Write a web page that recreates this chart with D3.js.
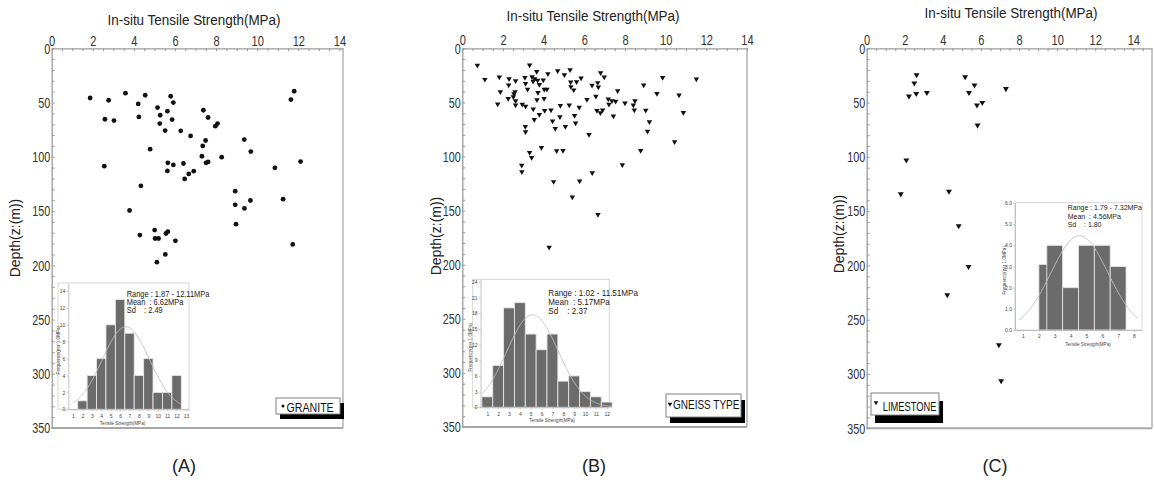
<!DOCTYPE html>
<meta charset="utf-8">
<style>
body { margin: 0; background: #fff; }
svg { font-family: "Liberation Sans", Arial, sans-serif; }
.ax .domain, .ax line { stroke: #9c9c9c; }
.ins .domain, .ins line { stroke: #b4b4b4; stroke-width: 0.8; }
</style>
<body>
<svg id="chart" width="1154" height="480"></svg>
<script src="https://cdn.jsdelivr.net/npm/d3@7"></script>
<script>

// ---- data ----
var xTickVals = [0, 2, 4, 6, 8, 10, 12, 14];
var depthTickVals = [0, 50, 100, 150, 200, 250, 300, 350];

// (A) granite
var granX = [1.87,2.77,2.59,3.03,3.59,4.55,4.21,4.24,5.15,5.28,5.26,5.52,5.63,5.79,5.92,5.86,6.28,6.76,4.79,5.65,
  5.92,5.63,6.41,6.67,6.91,6.47,2.56,4.34,3.79,7.38,7.61,7.49,7.35,7.31,7.51,7.61,7.96,8.07,8.27,9.37,
  9.69,8.93,8.93,9.38,9.67,10.86,11.26,11.80,11.64,12.11,4.29,5.01,5.03,5.20,5.56,5.65,6.02,5.53,5.12,8.97,11.73];
var granDepth = [45.8,47.9,65.4,66.6,41.4,43.3,51.3,63.3,54.6,61.7,69.4,75.8,58.0,44.2,50.0,65.7,76.1,80.8,93.0,105.6,
  107.5,113.0,106.2,115.8,113.3,120.4,108.7,126.8,149.5,57.1,63.8,85.0,90.0,99.5,105.6,104.7,71.8,69.4,100.4,84.1,
  95.2,131.7,144.3,147.6,140.3,110.2,139.1,39.6,47.3,104.4,172.2,167.6,175.3,175.3,170.7,169.0,177.5,190.0,197.1,162.1,180.8];
var granBinLo = [1.5,2.5,3.5,4.5,5.5,6.5,7.5,8.5,9.5,10.5,11.5];
var granBinHi = [2.5,3.5,4.5,5.5,6.5,7.5,8.5,9.5,10.5,11.5,12.5];
var granFreq = [1,4,6,10,13,9,4,6,2,2,4];

// (B) gneiss type
var gneissX = [0.74,1.11,1.82,1.87,1.74,2.30,2.28,2.62,2.26,2.51,2.54,2.59,2.62,2.62,2.95,3.11,3.08,3.11,3.21,3.31,
  3.43,3.48,3.56,3.66,3.70,3.79,3.72,3.67,3.98,4.03,4.16,4.02,4.21,3.49,3.54,3.79,4.05,4.36,3.10,3.11,
  4.44,4.57,4.69,5.02,5.30,5.33,5.34,5.48,5.62,5.84,5.26,4.82,4.80,5.07,5.52,5.57,5.75,6.13,6.38,6.66,
  6.69,6.80,6.98,6.57,6.62,6.79,6.90,7.18,7.21,7.36,7.54,7.43,7.64,8.00,8.41,8.46,8.49,8.92,9.02,9.20,
  9.11,9.57,9.85,10.66,10.87,11.51,10.44,6.23,8.77,7.87,6.39,5.77,4.49,5.41,6.67,2.92,2.93,3.31,3.41,3.89,
  4.64,4.95,4.27];
var gneissDepth = [15.8,28.8,26.7,40.3,51.5,28.2,33.9,30.0,46.4,44.8,42.1,40.3,48.5,52.4,51.8,53.6,27.0,32.7,37.9,15.5,
  26.4,30.6,28.2,21.5,29.7,33.6,40.9,47.6,29.4,37.9,37.9,46.4,23.6,56.1,65.8,61.2,57.6,57.0,72.4,77.3,
  67.3,74.2,20.9,24.5,20.0,31.2,35.5,38.5,30.9,27.6,52.4,53.0,63.3,72.4,62.1,69.1,54.5,47.3,34.2,31.8,
  35.8,22.7,26.7,44.5,57.6,59.7,57.0,47.0,51.8,48.5,49.1,62.7,39.4,50.6,52.4,57.0,48.5,33.9,57.3,67.9,
  76.7,41.8,27.0,43.3,59.4,28.5,86.4,79.7,94.5,107.6,115.2,122.7,123.3,137.6,153.6,108.2,114.2,96.4,100.9,91.8,
  94.8,94.5,184];
var gneissBinLo = [0.5,1.5,2.5,3.5,4.5,5.5,6.5,7.5,8.5,9.5,10.5,11.5];
var gneissBinHi = [1.5,2.5,3.5,4.5,5.5,6.5,7.5,8.5,9.5,10.5,11.5,12.5];
var gneissFreq = [2,8,19,20,14,11,14,5,6,3,2,1];

// (C) limestone
var limeX = [2.62,2.50,2.60,2.22,3.16,5.17,5.66,5.37,7.31,5.79,6.07,5.82,2.08,1.79,4.32,4.83,5.35,4.23,6.94,7.06];
var limeDepth = [24.5,32.1,41.8,44.2,40.9,26.4,33.9,40.9,37.3,52.4,50.0,70.9,103.0,134.2,131.8,163.6,201.1,227.2,273.2,306.4];
var limeBinLo = [2.0,2.5,3.5,4.5,5.5,6.5];
var limeBinHi = [2.6,3.5,4.5,5.5,6.5,7.5];
var limeFreq = [3.1,4,2,4,4,3];

var statRange = ["1.87 - 12.11MPa", "1.02 - 11.51MPa", "1.79 - 7.32MPa"];
var statMean = [6.62, 5.17, 4.56];
var statSd = [2.49, 2.37, 1.80];
var legendNames = ["GRANITE", "GNEISS TYPE", "LIMESTONE"];
var panelTags = ["(A)", "(B)", "(C)"];

// ---- layout ----
var panels = [
  { xs: granX, ds: granDepth, mark: "dot", xPx: [51.7, 339.4], right: 343, yPx: [48.3, 428],
    labBase: 46.3, title: [194, 25], yLab: [20, 238], tag: [184, 472],
    inset: { lo: granBinLo, hi: granBinHi, f: granFreq, frame: [58, 283, 189, 409.3], plotLeft: 68.3,
      xA: [1, 13], xP: [73, 186], yA: [0, 14], yP: [409.3, 291], xT: d3.range(1, 14), yT: d3.range(0, 15, 2),
      labBase: 418.5, titleXY: [122.5, 424.5], freqX: 60, curve: [1, 12.4],
      stats: { x: 126.7, y: [296.5, 305, 313.3], size: 8.3, sx: 0.9 } },
    legend: { x: 276, y: 398, w: 64, h: 16, dx: 4, dy: 5, mx: 283, my: 406, tx: 286.5, ty: 411.8, size: 12.5, sx: 0.85 } },
  { xs: gneissX, ds: gneissDepth, mark: "tri", xPx: [462.3, 747], right: 747, yPx: [48.3, 427],
    labBase: 45, title: [593, 21], yLab: [441, 236], tag: [594, 472],
    inset: { lo: gneissBinLo, hi: gneissBinHi, f: gneissFreq, frame: [472.7, 279.3, 609.3, 407.3], plotLeft: 480.5,
      xA: [1, 12], xP: [487.3, 606.7], yA: [0, 24], yP: [407.3, 281.7], xT: d3.range(1, 13), yT: d3.range(0, 25, 3),
      labBase: 416.5, titleXY: [552, 422], freqX: 472, curve: [0.5, 12.5],
      stats: { x: 548.3, y: [296, 305, 313.8], size: 8.8, sx: 0.92 } },
    legend: { x: 666, y: 394, w: 75, h: 23, dx: 4, dy: 6, mx: 670, my: 404, tx: 673, ty: 409, size: 12.5, sx: 0.8 } },
  { xs: limeX, ds: limeDepth, mark: "tri", xPx: [866.7, 1133.3], right: 1152, yPx: [48.3, 428.3],
    labBase: 45, title: [1011, 18], yLab: [844, 234], tag: [995, 472],
    inset: { lo: limeBinLo, hi: limeBinHi, f: limeFreq, frame: [1015, 202.7, 1142, 330], plotLeft: 1015,
      xA: [1, 8], xP: [1023, 1134], yA: [0, 6], yP: [330, 203], xT: d3.range(1, 9), yT: d3.range(0, 7),
      labBase: 338, titleXY: [1088, 346], freqX: 1006, curve: [0.75, 8.25],
      stats: { x: 1067.7, y: [210, 218.7, 227.4], size: 7.6, sx: 0.92 } },
    legend: { x: 871, y: 393, w: 68, h: 22, dx: 4, dy: 8, mx: 876, my: 402.5, tx: 882.7, ty: 410.7, size: 13, sx: 0.72 } }
];

var svg = d3.select("#chart");

function label(g, x, y, s, o) {
  o = o || {};
  var t = g.append("text")
    .attr("transform", "translate(" + x + "," + y + ")" + (o.rot ? " rotate(" + o.rot + ")" : " scale(" + (o.sx || 1) + ",1)"))
    .attr("font-size", o.size || 12)
    .attr("text-anchor", o.anchor || "start")
    .attr("fill", o.fill || "#111")
    .text(s);
  if (o.pre) t.style("white-space", "pre");
  return t;
}

panels.forEach(function(p, i) {
  var g = svg.append("g");
  var top = p.yPx[0], bottom = p.yPx[1], left = p.xPx[0];
  var x0 = d3.scaleLinear().domain([0, 14]).range(p.xPx);
  var x = d3.scaleLinear().domain([0, x0.invert(p.right)]).range([left, p.right]);
  var y = d3.scaleLinear().domain([0, 350]).range(p.yPx);

  // frame right / bottom
  g.append("line").attr("x1", p.right).attr("x2", p.right).attr("y1", top).attr("y2", bottom)
    .attr("stroke", "#a8a8a8").attr("stroke-width", 1.3);
  g.append("line").attr("x1", left).attr("x2", p.right).attr("y1", bottom).attr("y2", bottom)
    .attr("stroke", "#a8a8a8").attr("stroke-width", 2);

  // top axis
  var gx = g.append("g").attr("class", "ax").attr("transform", "translate(0," + top + ")");
  gx.call(d3.axisTop(x).tickValues(d3.range(0, x.domain()[1] + 0.01, 0.5)).tickSize(-3).tickSizeOuter(0).tickFormat(""));
  gx.selectAll(".domain").attr("stroke-width", 1.3);
  var gxl = g.append("g").attr("transform", "translate(0," + top + ")")
    .call(d3.axisTop(x).tickValues(xTickVals).tickSize(0).tickPadding(top - p.labBase));
  gxl.select(".domain").remove();
  gxl.selectAll("text").attr("font-size", 15).attr("fill", "#333").attr("font-family", null)
    .attr("transform", "scale(0.74,1)");

  // left axis
  var gy = g.append("g").attr("class", "ax").attr("transform", "translate(" + left + ",0)");
  gy.call(d3.axisLeft(y).tickValues(d3.range(0, 351, 10)).tickSize(-3).tickSizeOuter(0).tickFormat(""));
  gy.selectAll(".domain").attr("stroke-width", 1.3);
  var gyl = g.append("g").attr("transform", "translate(" + left + ",0)")
    .call(d3.axisLeft(y).tickValues(depthTickVals).tickSize(0));
  gyl.select(".domain").remove();
  gyl.selectAll("text").attr("font-size", 15).attr("fill", "#333").attr("font-family", null)
    .attr("x", 0).attr("transform", "translate(-1.5,0) scale(0.72,1)");

  // titles
  label(g, p.title[0], p.title[1], "In-situ Tensile Strength(MPa)", { size: 14, anchor: "middle", sx: 0.96, fill: "#222" });
  label(g, p.yLab[0], p.yLab[1], "Depth(z:(m))", { size: 14, anchor: "middle", rot: -90, fill: "#222" });
  label(g, p.tag[0], p.tag[1], panelTags[i], { size: 18, anchor: "middle", fill: "#222" });

  // scatter
  var pts = d3.zip(p.xs, p.ds);
  if (p.mark === "dot") {
    g.selectAll("circle.pt").data(pts).enter().append("circle").attr("class", "pt")
      .attr("cx", function(d) { return x(d[0]); })
      .attr("cy", function(d) { return y(d[1]); })
      .attr("r", 2.4).attr("fill", "#111");
  } else {
    var tri = d3.symbol(d3.symbolTriangle, i === 2 ? 15 : 13);
    g.selectAll("path.pt").data(pts).enter().append("path").attr("class", "pt")
      .attr("d", tri)
      .attr("transform", function(d) { return "translate(" + x(d[0]) + "," + y(d[1]) + ") rotate(180)"; })
      .attr("fill", "#111");
  }

  // inset histogram
  var s = p.inset, fr = s.frame;
  var ig = g.append("g");
  ig.append("rect").attr("x", fr[0]).attr("y", fr[1]).attr("width", fr[2] - fr[0]).attr("height", fr[3] - fr[1])
    .attr("fill", "#fff").attr("stroke", "#d2d2d2").attr("stroke-width", 0.9);
  var ix0 = d3.scaleLinear().domain(s.xA).range(s.xP);
  var iy0 = d3.scaleLinear().domain(s.yA).range(s.yP);
  var ix = d3.scaleLinear().domain([ix0.invert(s.plotLeft), ix0.invert(fr[2])]).range([s.plotLeft, fr[2]]);
  var iy = d3.scaleLinear().domain([0, iy0.invert(fr[1])]).range([s.yP[0], fr[1]]);

  var bins = d3.zip(s.lo, s.hi, s.f);
  ig.selectAll("rect.bar").data(bins).enter().append("rect").attr("class", "bar")
    .attr("x", function(d) { return ix(d[0]); })
    .attr("width", function(d) { return ix(d[1]) - ix(d[0]); })
    .attr("y", function(d) { return iy(d[2]); })
    .attr("height", function(d) { return iy(0) - iy(d[2]); })
    .attr("fill", "#6b6b6b").attr("stroke", "#e4e4e4").attr("stroke-width", 0.9);

  // fitted normal curve from the stated mean and sd
  var n = d3.sum(s.f), mu = statMean[i], sd = statSd[i];
  var curve = d3.line()
    .x(function(v) { return ix(v); })
    .y(function(v) { return iy(n / (sd * Math.sqrt(2 * Math.PI)) * Math.exp(-0.5 * Math.pow((v - mu) / sd, 2))); });
  ig.append("path").attr("d", curve(d3.range(s.curve[0], s.curve[1] + 0.001, 0.05)))
    .attr("fill", "none").attr("stroke", "#bdbdbd").attr("stroke-width", 0.9);

  var ixa = ig.append("g").attr("class", "ins").attr("transform", "translate(0," + s.yP[0] + ")")
    .call(d3.axisBottom(ix).tickValues(s.xT).tickSize(1.5).tickSizeOuter(0).tickPadding(s.labBase - s.yP[0] - 5.5));
  ixa.selectAll("text").attr("font-size", 5).attr("fill", "#444").attr("font-family", null);
  var iya = ig.append("g").attr("class", "ins").attr("transform", "translate(" + s.plotLeft + ",0)")
    .call(d3.axisLeft(iy).tickValues(s.yT).tickSize(1.5).tickSizeOuter(0).tickPadding(1.5));
  iya.selectAll("text").attr("font-size", 5).attr("fill", "#444").attr("font-family", null);

  label(ig, s.titleXY[0], s.titleXY[1], "Tensile Strength(MPa)", { size: 4.6, anchor: "middle", fill: "#444" });
  label(ig, s.freqX, (iy(0) + fr[1]) / 2 + 4, "Frequency(per 1.0MPa)", { size: 4.6, anchor: "middle", rot: -90, fill: "#444" });

  var st = s.stats;
  var lines = ["Range : " + statRange[i], "Mean  : " + statMean[i].toFixed(2) + "MPa", "Sd    : " + statSd[i].toFixed(2)];
  lines.forEach(function(t, k) {
    label(ig, st.x, st.y[k], t, { size: st.size, sx: st.sx, fill: "#222", pre: true });
  });

  // legend box with drop shadow
  var L = p.legend;
  g.append("rect").attr("x", L.x + L.dx).attr("y", L.y + L.dy).attr("width", L.w).attr("height", L.h).attr("fill", "#000");
  g.append("rect").attr("x", L.x).attr("y", L.y).attr("width", L.w).attr("height", L.h)
    .attr("fill", "#fff").attr("stroke", "#808080").attr("stroke-width", 1);
  if (p.mark === "dot") {
    g.append("circle").attr("cx", L.mx).attr("cy", L.my).attr("r", 1.5).attr("fill", "#111");
  } else {
    g.append("path").attr("d", d3.symbol(d3.symbolTriangle, 9)())
      .attr("transform", "translate(" + L.mx + "," + L.my + ") rotate(180)").attr("fill", "#111");
  }
  label(g, L.tx, L.ty, legendNames[i], { size: L.size, sx: L.sx, fill: "#111" });
});

</script>
</body>
</html>
